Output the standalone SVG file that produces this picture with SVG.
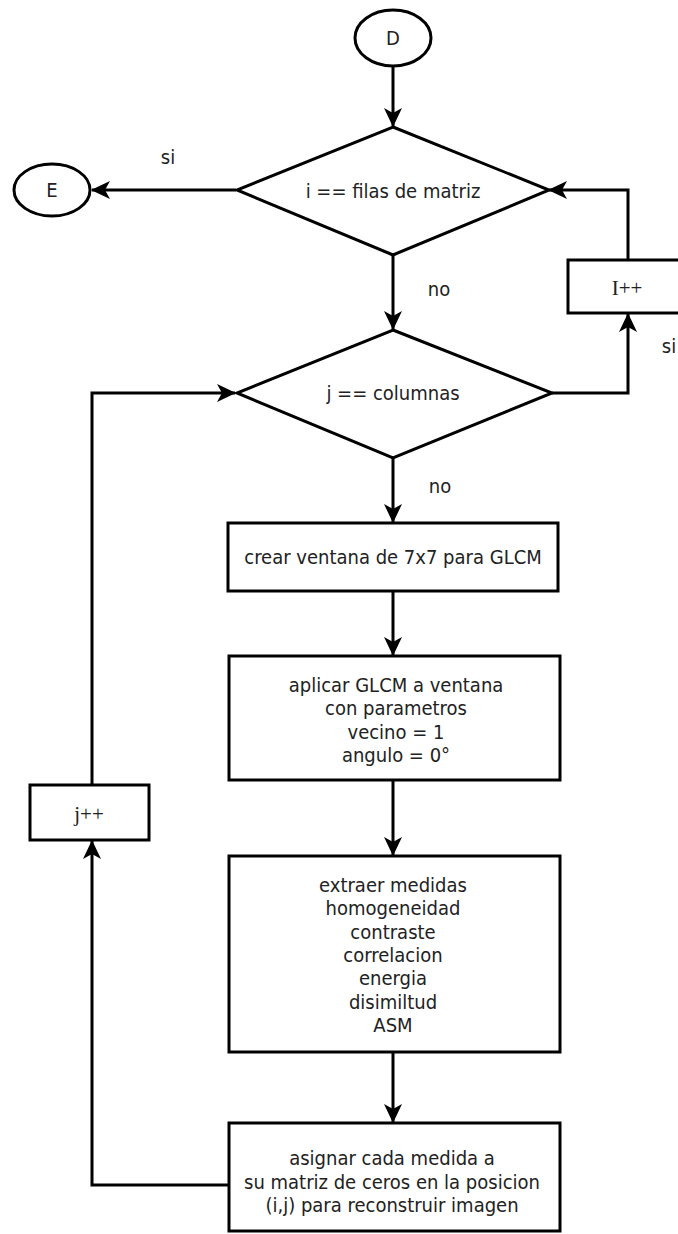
<svg xmlns="http://www.w3.org/2000/svg" width="678" height="1234" viewBox="0 0 678 1234">
  <defs>
    <marker id="arrow" markerUnits="userSpaceOnUse" markerWidth="20" markerHeight="20" refX="18" refY="10" orient="auto">
      <path d="M0,1 L19,10 L0,19 L5,10 Z" fill="#000"/>
    </marker>
    <style>
      .shape { fill: #fff; stroke: #000; stroke-width: 3; }
      .edge { fill: none; stroke: #000; stroke-width: 3; marker-end: url(#arrow); }
      text { font-family: "DejaVu Sans Condensed", "DejaVu Sans", sans-serif; font-stretch: condensed; font-size: 20px; fill: #222; text-anchor: middle; dominant-baseline: central; }
      text.serif { font-family: "Liberation Serif", "Times New Roman", serif; font-stretch: normal; font-size: 21px; }
    </style>
  </defs>
  <rect width="678" height="1234" fill="#fff"/>

  <!-- connectors -->
  <g id="connectors">
    <path class="edge" d="M393,66 L393,126"/>
    <path class="edge" d="M236,190 L92,190"/>
    <path class="edge" d="M628,260 L628,190 L549,190"/>
    <path class="edge" d="M393,255 L393,329"/>
    <path class="edge" d="M552,393 L628,393 L628,314"/>
    <path class="edge" d="M92,785 L92,393 L235,393"/>
    <path class="edge" d="M393,458 L393,522"/>
    <path class="edge" d="M393,591 L393,655"/>
    <path class="edge" d="M393,780 L393,855"/>
    <path class="edge" d="M393,1052 L393,1122"/>
    <path class="edge" d="M229,1185 L92,1185 L92,841"/>
    <text x="168" y="157">si</text>
    <text x="439" y="289">no</text>
    <text x="669" y="346">si</text>
    <text x="440" y="486">no</text>
  </g>

  <g id="start-D">
    <ellipse class="shape" cx="393" cy="38" rx="38" ry="28"/>
    <text x="393" y="38">D</text>
  </g>

  <g id="end-E">
    <ellipse class="shape" cx="52" cy="190" rx="38" ry="26"/>
    <text x="52" y="190">E</text>
  </g>

  <g id="decision-filas">
    <polygon class="shape" points="393,127 549,190 393,255 237,190"/>
    <text x="393" y="191">i == filas de matriz</text>
  </g>

  <g id="inc-i">
    <rect class="shape" x="568" y="260" width="114" height="53"/>
    <text class="serif" x="627" y="288">I++</text>
  </g>

  <g id="decision-columnas">
    <polygon class="shape" points="393,330 552,393 393,458 237,393"/>
    <text x="393" y="393">j == columnas</text>
  </g>

  <g id="inc-j">
    <rect class="shape" x="30" y="785" width="119" height="55"/>
    <text class="serif" x="89" y="814">j++</text>
  </g>

  <g id="crear-ventana">
    <rect class="shape" x="228" y="523" width="330" height="68"/>
    <text x="393" y="557">crear ventana de 7x7 para GLCM</text>
  </g>

  <g id="aplicar-glcm">
    <rect class="shape" x="229" y="656" width="331" height="124"/>
    <text x="396" y="685">aplicar GLCM a ventana</text>
    <text x="396" y="708">con parametros</text>
    <text x="396" y="732">vecino = 1</text>
    <text x="396" y="755">angulo = 0°</text>
  </g>

  <g id="extraer-medidas">
    <rect class="shape" x="229" y="856" width="331" height="196"/>
    <text x="393" y="885">extraer medidas</text>
    <text x="393" y="908">homogeneidad</text>
    <text x="393" y="932">contraste</text>
    <text x="393" y="955">correlacion</text>
    <text x="393" y="978">energia</text>
    <text x="393" y="1002">disimiltud</text>
    <text x="393" y="1025">ASM</text>
  </g>

  <g id="asignar-medida">
    <rect class="shape" x="229" y="1123" width="331" height="108"/>
    <text x="392" y="1158">asignar cada medida a</text>
    <text x="392" y="1182">su matriz de ceros en la posicion</text>
    <text x="392" y="1205">(i,j) para reconstruir imagen</text>
  </g>
</svg>
